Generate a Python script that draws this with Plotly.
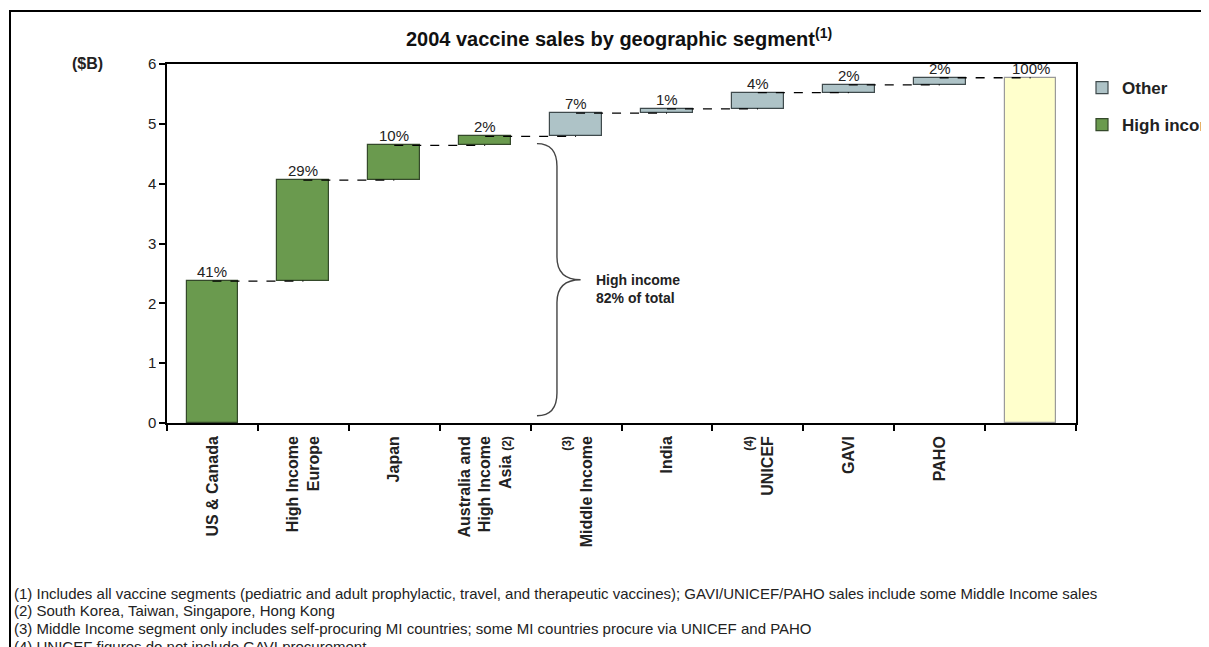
import plotly.graph_objects as go

# ---------------- data ----------------
categories = ["US & Canada", "High Income<br>Europe", "Japan",
              "Australia and<br>High Income<br>Asia <span style='font-size:12px'>(2)</span>",
              "<span style='font-size:12px'>(3)</span><br>Middle Income", "India",
              "<span style='font-size:12px'>(4)</span><br>UNICEF", "GAVI", "PAHO", ""]
high_income_vals = [2.37, 1.69, 0.58, 0.15]
other_vals = [0.39, 0.07, 0.27, 0.13, 0.12]
pct_labels = ["41%", "29%", "10%", "2%", "7%", "1%", "4%", "2%", "2%", "100%"]
y_ticks = [0, 1, 2, 3, 4, 5, 6]
footnotes = [
    "(1) Includes all vaccine segments (pediatric and adult prophylactic, travel, and therapeutic vaccines); GAVI/UNICEF/PAHO sales include some Middle Income sales",
    "(2) South Korea, Taiwan, Singapore, Hong Kong",
    "(3) Middle Income segment only includes self-procuring MI countries; some MI countries procure via UNICEF and PAHO",
    "(4) UNICEF figures do not include GAVI procurement",
]

# ---------------- layout geometry ----------------
W, H = 1209, 647
OX, OY = 8, 7          # page offset of the figure (body margin)
L, R, T, B = 167 - OX, 1076 - OX, 63 - OY, 422 - OY  # plot area in figure pixels

def px_x(px):
    return (px - OX - L) / (R - L)

def px_y(py):
    return (B - (py - OY)) / (B - T)

FONT = "Liberation Sans, Arial, sans-serif"

# waterfall computations
increments = high_income_vals + other_vals
bases, tops = [], []
run = 0.0
for v in increments:
    bases.append(run)
    run += v
    tops.append(run)
total = run
n_hi = len(high_income_vals)
xs = list(range(len(categories)))

fig = go.Figure()

fig.add_trace(go.Bar(
    x=xs[n_hi:n_hi + len(other_vals)], y=other_vals, base=bases[n_hi:],
    width=0.57, name="<b>Other</b>",
    marker=dict(color="#AEC3C7", line=dict(color="#3F4A4C", width=1.2)),
    legendgroup="o", hoverinfo="skip"))
fig.add_trace(go.Bar(
    x=xs[:n_hi], y=high_income_vals, base=bases[:n_hi],
    width=0.57, name="<b>High income</b>",
    marker=dict(color="#6A9A4E", line=dict(color="#34492A", width=1.2)),
    legendgroup="h", hoverinfo="skip"))
fig.add_trace(go.Bar(
    x=[xs[-1]], y=[total], base=[0], width=0.57, name="Total",
    marker=dict(color="#FFFFCC", line=dict(color="#9A9A9A", width=1.2)),
    showlegend=False, hoverinfo="skip"))

# dashed connectors
cx, cy = [], []
all_tops = tops + [total]
for i in range(len(categories) - 1):
    cx += [xs[i], xs[i + 1], None]
    cy += [all_tops[i], all_tops[i], None]
fig.add_trace(go.Scatter(x=cx, y=cy, mode="lines",
                         line=dict(color="black", width=1.3, dash="dash"),
                         showlegend=False, hoverinfo="skip"))

# percentage labels
for i, lab in enumerate(pct_labels):
    fig.add_annotation(x=xs[i], y=all_tops[i], text=lab, showarrow=False,
                       yanchor="bottom", yshift=-1,
                       font=dict(family=FONT, size=15, color="#222"))

# brace for high income
hi_total = sum(high_income_vals)
ytop, ybot, mid = hi_total - 0.12, 0.12, hi_total / 2
x0, xv, xt = 3.57, 3.79, 4.05
r = 0.38
path = (f"M {x0},{ytop} Q {xv},{ytop} {xv},{ytop - r} L {xv},{mid + r} "
        f"Q {xv},{mid} {xt},{mid} Q {xv},{mid} {xv},{mid - r} "
        f"L {xv},{ybot + r} Q {xv},{ybot} {x0},{ybot}")
fig.add_shape(type="path", path=path, xref="x", yref="y",
              line=dict(color="#444", width=1.4))
fig.add_annotation(x=4.2, y=mid - 0.16, xanchor="left", yanchor="middle", align="left",
                   text="<b>High income<br>82% of total</b>", showarrow=False,
                   font=dict(family=FONT, size=14, color="#222"))

# ($B) label
fig.add_annotation(xref="paper", yref="paper", x=px_x(87), y=px_y(62),
                   text="<b>($B)</b>", showarrow=False, xanchor="center", yanchor="middle",
                   font=dict(family=FONT, size=16, color="#222"))

# footnotes
for txt, py in zip(footnotes, [592, 609, 627, 645]):
    fig.add_annotation(xref="paper", yref="paper", x=px_x(12), y=px_y(py),
                       text=txt, showarrow=False, xanchor="left", yanchor="middle",
                       font=dict(family=FONT, size=15, color="#222"))

# outer frame
fig.add_shape(type="rect", xref="paper", yref="paper",
              x0=px_x(10), x1=px_x(1260), y0=px_y(720), y1=px_y(10),
              line=dict(color="black", width=2), layer="below")

fig.update_layout(
    width=W, height=H,
    margin=dict(l=L, r=W - R, t=T, b=H - B, autoexpand=False),
    paper_bgcolor="white", plot_bgcolor="white",
    barmode="overlay", bargap=0,
    title=dict(text="<b>2004 vaccine sales by geographic segment<sup>(1)</sup></b>",
               x=px_x(619), xref="paper", xanchor="center",
               y=1 - (38 - OY) / H, yref="container", yanchor="middle",
               font=dict(family=FONT, size=20, color="#111")),
    legend=dict(x=(1082 - OX) / W, y=1 - (69 - OY) / H, xref="container", yref="container",
                xanchor="left", yanchor="top",
                font=dict(family=FONT, size=17, color="#222"),
                tracegroupgap=12, bgcolor="rgba(0,0,0,0)", traceorder="grouped"),
    font=dict(family=FONT, color="#222"),
    showlegend=True,
)
fig.update_xaxes(range=[-0.5, len(categories) - 0.5], tickmode="array",
                 tickvals=xs, ticktext=[f"<b>{c}</b>" for c in categories],
                 tickangle=-90, ticks="", showgrid=False, zeroline=False,
                 showline=True, linecolor="black", linewidth=1.5, mirror=True,
                 ticklabelstandoff=5,
                 tickfont=dict(family=FONT, size=16, color="#222"),
                 minor=dict(tick0=-0.5, dtick=1, ticks="outside", ticklen=6,
                            tickcolor="black", tickwidth=1.5, showgrid=False))
fig.update_yaxes(range=[0, 6], tickvals=y_ticks, ticks="outside", ticklen=6,
                 tickcolor="black", tickwidth=1.5, showgrid=False, zeroline=False,
                 showline=True, linecolor="black", linewidth=1.5, mirror=True,
                 tickfont=dict(family=FONT, size=15, color="#222"),
                 tickprefix="<b>", ticksuffix="</b>")

fig.write_html("out.html")
